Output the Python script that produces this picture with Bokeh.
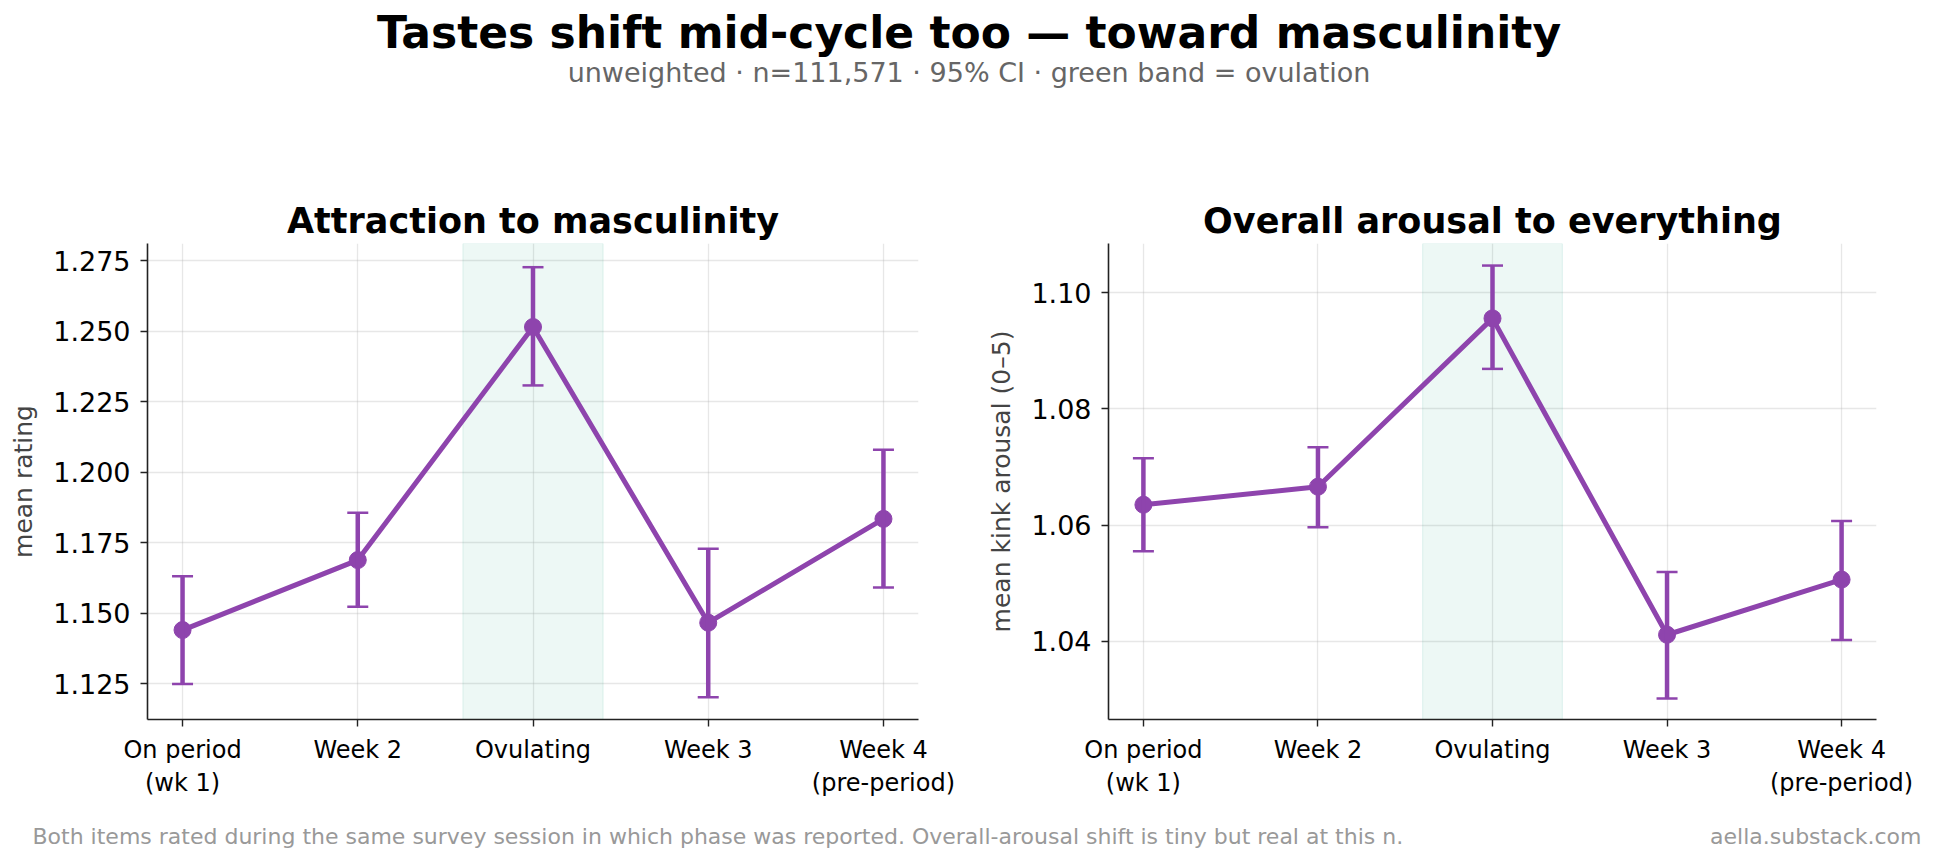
from bokeh.plotting import figure
from bokeh.layouts import column, row
from bokeh.models import (Range1d, Label, BoxAnnotation, Whisker, TeeHead, Plot,
                          ColumnDataSource, FixedTicker, NumeralTickFormatter)
from bokeh.embed import file_html
from bokeh.resources import INLINE

# ---------------- data ----------------
phases = ["On period\n(wk 1)", "Week 2", "Ovulating", "Week 3", "Week 4\n(pre-period)"]
ovulation_index = 2

masc_mean = [1.1441, 1.1689, 1.2515, 1.1467, 1.1835]
masc_lo = [1.1250, 1.1524, 1.2308, 1.1203, 1.1592]
masc_hi = [1.1632, 1.1857, 1.2727, 1.1729, 1.2080]
masc_ticks = [1.125, 1.150, 1.175, 1.200, 1.225, 1.250, 1.275]

arousal_mean = [1.0635, 1.0666, 1.0956, 1.0411, 1.0506]
arousal_lo = [1.0555, 1.0596, 1.0869, 1.0301, 1.0402]
arousal_hi = [1.0715, 1.0734, 1.1047, 1.0519, 1.0607]
arousal_ticks = [1.04, 1.06, 1.08, 1.10]

title_text = "Tastes shift mid-cycle too \u2014 toward masculinity"
subtitle_text = "unweighted \u00b7 n=111,571 \u00b7 95% CI \u00b7 green band = ovulation"
footer_left = ("Both items rated during the same survey session in which phase was reported. "
               "Overall-arousal shift is tiny but real at this n.")
footer_right = "aella.substack.com"

PURPLE = "#8e44ad"
TEAL = "#16a085"
FONT = "DejaVu Sans"
W = 1937


def text_fig(height):
    f = Plot(width=W, height=height, x_range=Range1d(0, W), y_range=Range1d(height, 0),
             output_backend="svg", toolbar_location=None, title=None,
             min_border=0, outline_line_color=None)
    return f


top = text_fig(110)
top.add_layout(Label(x=W / 2, y=32, text=title_text, text_align="center",
                     text_baseline="alphabetic", text_font=FONT, text_font_style="bold",
                     text_font_size="44px", text_color="black"))
top.add_layout(Label(x=W / 2, y=72, text=subtitle_text, text_align="center",
                     text_baseline="alphabetic", text_font=FONT,
                     text_font_size="27px", text_color="#666666"))


def panel(title, ylabel, mean, lo, hi, yr, ticks, fmt, width, bl, br):
    p = figure(width=width, height=690, x_range=Range1d(-0.2, 4.2), y_range=Range1d(*yr),
               output_backend="svg", toolbar_location=None,
               min_border_left=bl, min_border_right=br, min_border_top=133, min_border_bottom=77)
    p.outline_line_color = None
    p.title.text = title
    p.title.align = "center"
    p.title.text_font = FONT
    p.title.text_font_style = "bold"
    p.title.text_font_size = "35px"
    p.title.text_color = "black"
    p.title.standoff = 5

    p.add_layout(BoxAnnotation(left=ovulation_index - 0.4, right=ovulation_index + 0.4,
                               fill_color=TEAL, fill_alpha=0.08,
                               line_color=TEAL, line_alpha=0.12, line_width=1, level="underlay"))

    xs = list(range(len(phases)))
    src = ColumnDataSource(dict(x=xs, mean=mean, lo=lo, hi=hi))
    p.add_layout(Whisker(base="x", lower="lo", upper="hi", source=src,
                         line_color=PURPLE, line_width=4.5, level="glyph",
                         upper_head=TeeHead(size=21, line_color=PURPLE, line_width=2.5),
                         lower_head=TeeHead(size=21, line_color=PURPLE, line_width=2.5)))
    p.line("x", "mean", source=src, line_color=PURPLE, line_width=5)
    p.scatter("x", "mean", source=src, size=17, fill_color=PURPLE, line_color=PURPLE)

    p.xaxis.ticker = FixedTicker(ticks=xs)
    p.xaxis.major_label_overrides = {i: lab for i, lab in enumerate(phases)}
    p.yaxis.ticker = FixedTicker(ticks=ticks)
    p.yaxis.formatter = NumeralTickFormatter(format=fmt)
    p.yaxis.axis_label = ylabel
    p.yaxis.axis_label_text_font = FONT
    p.yaxis.axis_label_text_font_style = "normal"
    p.yaxis.axis_label_text_font_size = "25px"
    p.yaxis.axis_label_standoff = 12
    for ax in (p.xaxis[0], p.yaxis[0]):
        ax.axis_line_color = "#222222"
        ax.axis_line_width = 1.6
        ax.major_tick_line_color = "#222222"
        ax.major_tick_line_width = 1.4
        ax.major_tick_out = 7
        ax.major_tick_in = 0
        ax.minor_tick_line_color = None
        ax.major_label_text_font = FONT
        ax.major_label_text_color = "black"
    p.xaxis.major_label_standoff = 9
    p.yaxis.major_label_standoff = 10
    p.xaxis.major_label_text_font_size = "24px"
    p.yaxis.major_label_text_font_size = "27px"

    for g in (p.xgrid[0], p.ygrid[0]):
        g.grid_line_color = "#b0b0b0"
        g.grid_line_alpha = 0.3
        g.grid_line_width = 1.3
    p.xgrid.ticker = FixedTicker(ticks=xs)
    p.ygrid.ticker = FixedTicker(ticks=ticks)
    return p


left = panel("Attraction to masculinity", "mean rating", masc_mean, masc_lo, masc_hi,
             (1.1124, 1.2811), masc_ticks, "0.000", 984, 147, 66)
right = panel("Overall arousal to everything", "mean kink arousal (0\u20135)",
              arousal_mean, arousal_lo, arousal_hi,
              (1.0265, 1.1085), arousal_ticks, "0.00", 953, 123, 61)

foot = text_fig(63)
foot.add_layout(Label(x=32, y=36, text=footer_left, text_align="left",
                      text_baseline="alphabetic", text_font=FONT,
                      text_font_size="22px", text_color="#999999"))
foot.add_layout(Label(x=1921, y=36, text=footer_right, text_align="right",
                      text_baseline="alphabetic", text_font=FONT,
                      text_font_size="22px", text_color="#999999"))

layout = column(top, row(left, right), foot)
open("out.html", "w").write(file_html(layout, INLINE))
